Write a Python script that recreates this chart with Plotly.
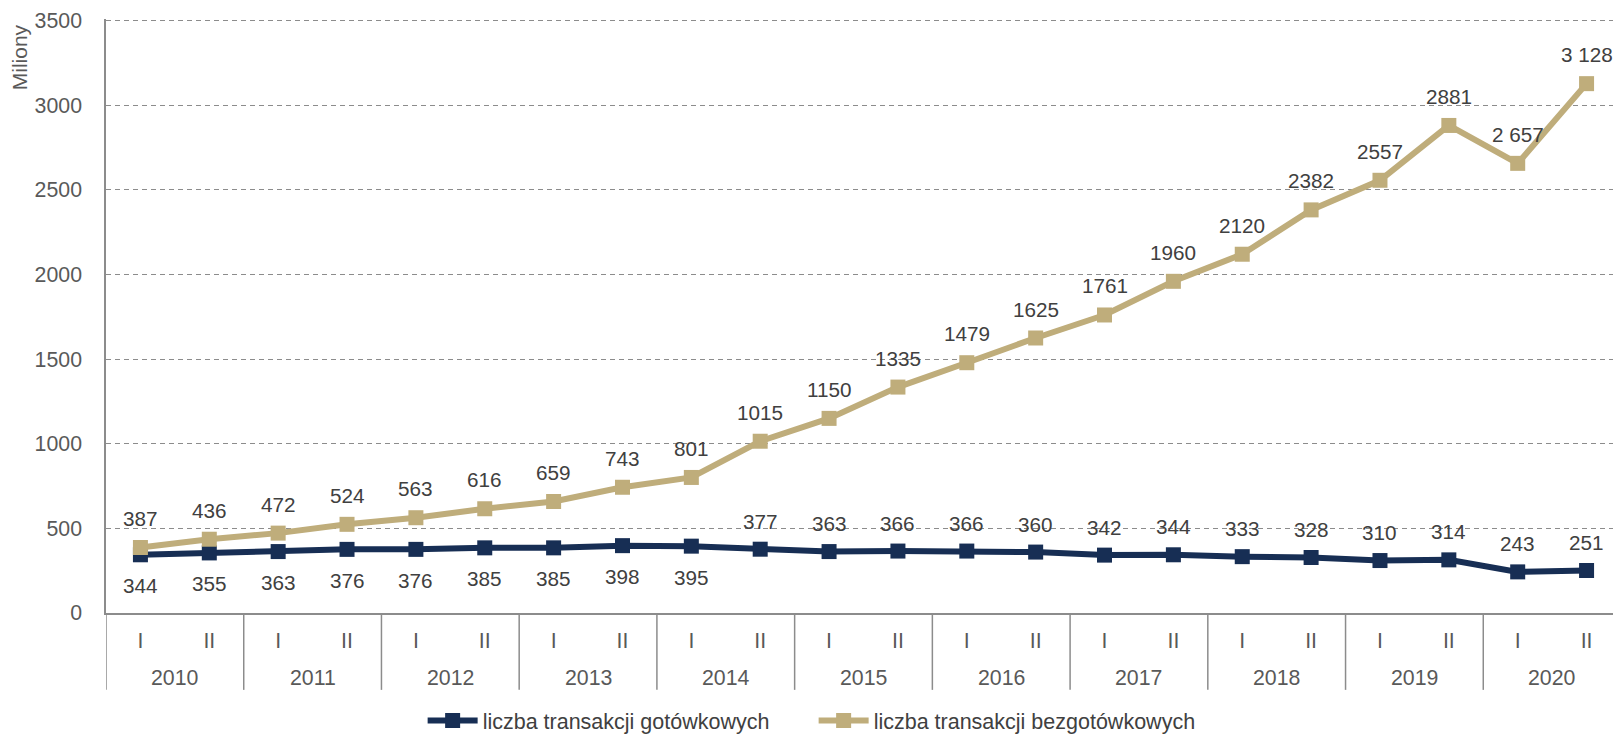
import plotly.graph_objects as go

years = [str(y) for y in range(2010, 2021)]
halves = ["I", "II"]

cash = [344, 355, 363, 376, 376, 385, 385, 398, 395, 377, 363,
        366, 366, 360, 342, 344, 333, 328, 310, 314, 243, 251]
cashless = [387, 436, 472, 524, 563, 616, 659, 743, 801, 1015, 1150,
            1335, 1479, 1625, 1761, 1960, 2120, 2382, 2557, 2881, 2657, 3128]
cash_labels = [str(v) for v in cash]
cashless_labels = [str(v) for v in cashless[:-2]] + ["2 657", "3 128"]

half_cat = halves * len(years)
x = list(range(len(half_cat)))

NAVY = "#172e54"
GOLD = "#bfad7b"
GRID = "#8c8c8c"
LABEL = "#404040"
TICK = "#595959"
FONT = "Liberation Sans, Arial, sans-serif"

fig = go.Figure()
fig.add_trace(go.Scatter(
    x=x, y=cash, name="liczba transakcji gotówkowych", mode="lines+markers",
    line=dict(color=NAVY, width=6), marker=dict(symbol="square", size=15, color=NAVY),
))
fig.add_trace(go.Scatter(
    x=x, y=cashless, name="liczba transakcji bezgotówkowych", mode="lines+markers",
    line=dict(color=GOLD, width=6), marker=dict(symbol="square", size=15, color=GOLD),
))

annotations = [dict(text="Miliony", textangle=-90, xref="paper", yref="paper",
                    x=-0.057, y=0.935, xanchor="center", yanchor="middle", showarrow=False,
                    font=dict(size=21, color=TICK))]

# data labels: cash below the line for the first 9 points, above afterwards
for i, (v, t) in enumerate(zip(cash, cash_labels)):
    annotations.append(dict(text=t, x=i, y=v, xref="x", yref="y", showarrow=False,
                            yshift=-31 if i < 9 else 28, font=dict(size=20.7, color=LABEL)))
for i, (v, t) in enumerate(zip(cashless, cashless_labels)):
    annotations.append(dict(text=t, x=i, y=v, xref="x", yref="y", showarrow=False,
                            yshift=29, font=dict(size=20.7, color=LABEL)))

# year labels and group dividers under the half-year ticks
shapes = []
for i, yr in enumerate(years):
    annotations.append(dict(text=yr, x=2 * i + 0.5, xref="x", y=-0.109, yref="paper",
                            xanchor="center", yanchor="middle", showarrow=False,
                            font=dict(size=21.3, color=TICK)))
for i in range(len(years) + 1):
    shapes.append(dict(type="line", xref="x", yref="paper", x0=2 * i - 0.5, x1=2 * i - 0.5,
                       y0=-0.1294, y1=0, line=dict(color=GRID, width=1.5)))

fig.update_layout(
    width=1613, height=727,
    margin=dict(l=98, r=0, t=11, b=122, autoexpand=False),
    plot_bgcolor="white", paper_bgcolor="white",
    font=dict(family=FONT, size=21, color=TICK),
    showlegend=True,
    legend=dict(orientation="h", x=0.209, xanchor="left", xref="paper",
                y=0.02, yanchor="middle", yref="container",
                font=dict(size=21.5, color=LABEL), itemwidth=50, entrywidth=326,
                tracegroupgap=0),
    xaxis=dict(range=[-0.5, len(x) - 0.5], tickvals=x, ticktext=half_cat, automargin=False,
               showline=True, linecolor=GRID, linewidth=1.5, showgrid=False, zeroline=False,
               ticks="", ticklabelstandoff=8, tickfont=dict(size=21.3, color=TICK)),
    yaxis=dict(range=[0, 3510], tickvals=[0, 500, 1000, 1500, 2000, 2500, 3000, 3500],
               showgrid=True, gridcolor=GRID, griddash="5px,4px",
               gridwidth=1, zeroline=False, showline=True, linecolor=GRID, linewidth=1.5,
               automargin=False, ticks="", ticklabelstandoff=18, ticklabeloverflow="allow",
               tickfont=dict(size=21.3, color=TICK)),
    annotations=annotations,
    shapes=shapes,
)

fig.write_html("out.html")
